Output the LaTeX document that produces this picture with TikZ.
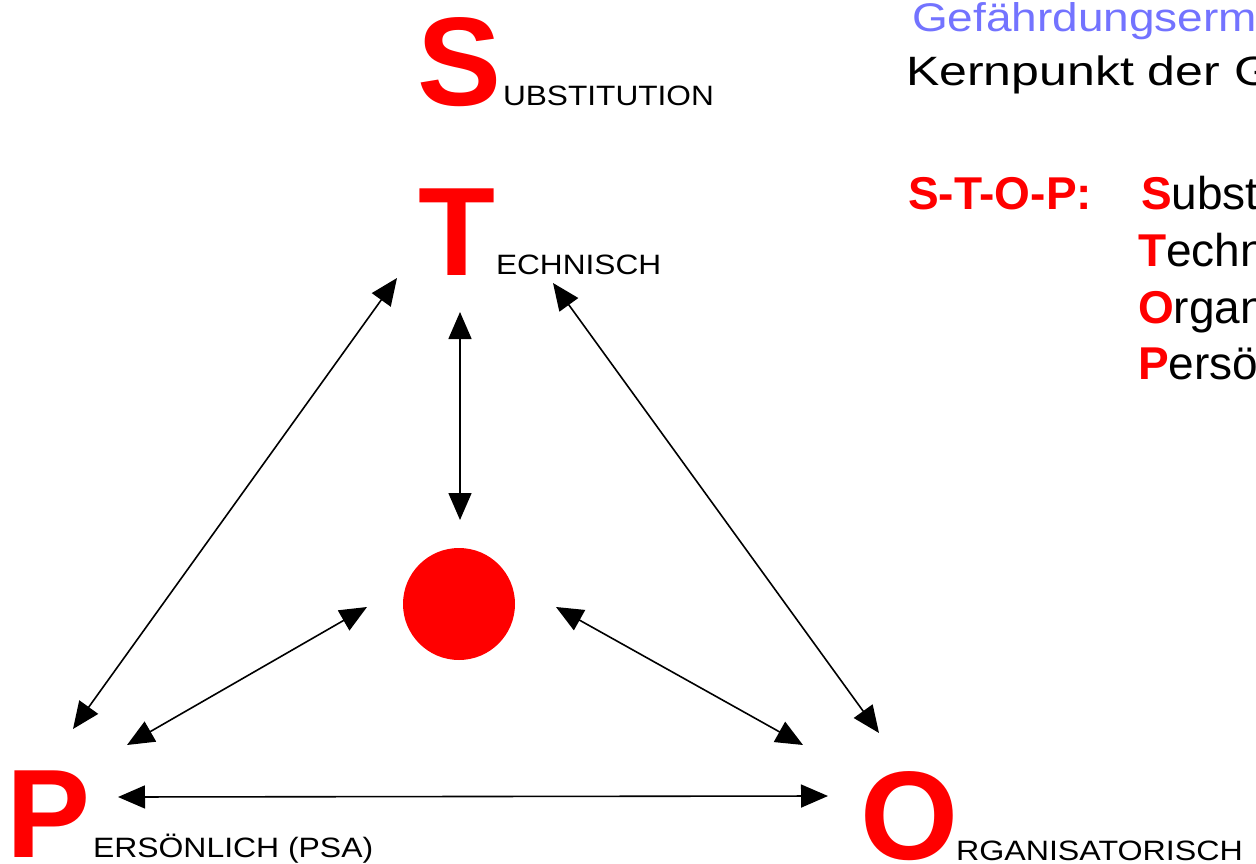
\documentclass[tikz,border=0pt]{standalone}
\usepackage{fontspec}
\setmainfont{Liberation Sans}
\usetikzlibrary{arrows.meta}
\definecolor{stopred}{RGB}{255,0,0}
\definecolor{titleblue}{RGB}{115,115,255}
\begin{document}
\begin{tikzpicture}[x=1pt,y=-1pt,
  big/.style={anchor=base west, inner sep=0pt, outer sep=0pt, text=stopred,
    font=\fontsize{126}{126}\selectfont\bfseries},
  lab/.style={anchor=base west, inner sep=0pt, outer sep=0pt,
    font=\fontsize{28}{30}\selectfont},
  txt/.style={anchor=base west, inner sep=0pt, outer sep=0pt},
  conn/.style={line width=1.6pt, draw=black,
    {Triangle[length=27pt,width=23pt]}-{Triangle[length=27pt,width=23pt]}}]
\clip (0,0) rectangle (1256,864);
\fill[white] (0,0) rectangle (1256,864);

% big letters and labels
\node[big] (S) at (417,106) {S};
\node[lab] (Slab) at (503,106) {\scalebox{1.13}[1]{UBSTITUTION}};
\node[big] (T) at (418,275) {T};
\node[lab] (Tlab) at (496,274) {\scalebox{1.13}[1]{ECHNISCH}};
\node[big] (P) at (6,857) {P};
\node[lab] (Plab) at (93,857) {\scalebox{1.14}[1]{ERSÖNLICH (PSA)}};
\node[big] (O) at (860,859) {O};
\node[lab] (Olab) at (956,860) {\scalebox{1.15}[1]{RGANISATORISCH}};

% centre
\node[circle, fill=stopred, inner sep=0pt, minimum size=112pt] (C) at (459,604) {};

% right-hand text
\node[txt, text=titleblue, font=\fontsize{40}{40}\selectfont] (t1) at (912,32)
  {\scalebox{1.15}[1]{Gefährdungserm}};
\node[txt, font=\fontsize{41}{41}\selectfont] (t2) at (906,86)
  {\scalebox{1.22}[1]{Kernpunkt der G}};
\node[txt, text=stopred, font=\fontsize{46}{46}\selectfont\bfseries] (stop) at (908,209) {S-T-O-P:};
\node[txt, font=\fontsize{46}{46}\selectfont] (l1) at (1141,209) {\textcolor{stopred}{\bfseries S}ubst};
\node[txt, font=\fontsize{46}{46}\selectfont] (l2) at (1138,266) {\textcolor{stopred}{\bfseries T}echn};
\node[txt, font=\fontsize{46}{46}\selectfont] (l3) at (1138,323) {\textcolor{stopred}{\bfseries O}rgan};
\node[txt, font=\fontsize{46}{46}\selectfont] (l4) at (1138,379) {\textcolor{stopred}{\bfseries P}ersö};

% connector end points
\coordinate (aTl) at (397,278);
\coordinate (aPt) at (73,729);
\coordinate (aTb) at (460,312);
\coordinate (aCt) at (460,520);
\coordinate (aTr) at (553,283);
\coordinate (aOt) at (879,733);
\coordinate (aCl) at (367,607);
\coordinate (aPr) at (127,745);
\coordinate (aCr) at (556,607);
\coordinate (aOl) at (803,745);
\coordinate (aPb) at (118,797);
\coordinate (aOb) at (828,796);

\draw[conn] (aTl) -- (aPt);
\draw[conn] (aTb) -- (aCt);
\draw[conn] (aTr) -- (aOt);
\draw[conn] (aCl) -- (aPr);
\draw[conn] (aCr) -- (aOl);
\draw[conn] (aPb) -- (aOb);
\end{tikzpicture}
\end{document}
